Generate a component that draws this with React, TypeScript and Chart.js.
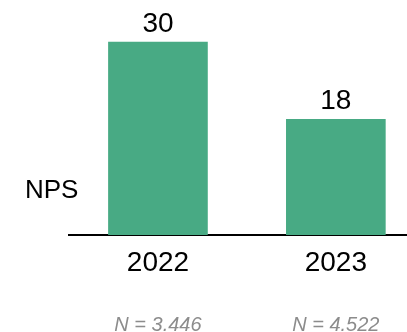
import React, { useEffect, useRef } from "react";
import { Chart, registerables } from "chart.js";

Chart.register(...registerables);

const categories = ["2022", "2023"];
const npsValues = [30, 18];
const sampleLabels = ["N = 3.446", "N = 4.522"];
const seriesLabel = "NPS";

const FONT = "'Liberation Sans', Arial, sans-serif";
const BAR_COLOR = "#48AA84";

const labelPlugin = {
  id: "labels",
  afterDatasetsDraw(chart: any) {
    const ctx = chart.ctx;
    const meta = chart.getDatasetMeta(0);
    ctx.save();
    ctx.fillStyle = "#000";
    ctx.font = `28px ${FONT}`;
    ctx.textAlign = "center";
    ctx.textBaseline = "alphabetic";
    meta.data.forEach((bar: any, i: number) => {
      ctx.fillText(String(npsValues[i]), bar.x, bar.y - 10);
    });
    ctx.font = `26px ${FONT}`;
    ctx.textAlign = "left";
    ctx.fillText(seriesLabel, 25, 198);
    ctx.restore();
  },
};

export default function App() {
  const ref = useRef<HTMLCanvasElement>(null);
  useEffect(() => {
    if (!ref.current) return;
    const chart = new Chart(ref.current, {
      type: "bar",
      data: {
        datasets: [
          {
            label: seriesLabel,
            data: categories.map((_, i) => ({ x: i, y: npsValues[i] })),
            backgroundColor: BAR_COLOR,
            barThickness: 99,
            borderWidth: 0,
          },
        ],
      },
      options: {
        animation: false,
        responsive: false,
        layout: { padding: { top: 10, left: 69, right: 0, bottom: 0 } },
        plugins: { legend: { display: false }, tooltip: { enabled: false } },
        scales: {
          x: {
            type: "linear",
            position: "bottom",
            offset: false,
            min: -0.5,
            max: 1.4,
            grid: { display: false, drawTicks: false, offset: false },
            border: { display: true, color: "#000", width: 2 },
            afterBuildTicks: (axis: any) => {
              axis.ticks = categories.map((_, i) => ({ value: i }));
            },
            afterFit: (axis: any) => {
              axis.height = 45;
              axis.paddingLeft = 0;
              axis.paddingRight = 0;
            },
            ticks: {
              padding: 11,
              maxRotation: 0,
              autoSkip: false,
              color: "#000",
              font: { family: FONT, size: 28 },
              callback: (v: any) => categories[Math.round(Number(v))] ?? "",
            },
          },
          x2: {
            type: "linear",
            position: "bottom",
            offset: false,
            min: -0.5,
            max: 1.4,
            grid: { display: false, drawTicks: false, offset: false },
            border: { display: false },
            afterBuildTicks: (axis: any) => {
              axis.ticks = sampleLabels.map((_, i) => ({ value: i }));
            },
            afterFit: (axis: any) => {
              axis.height = 52;
              axis.paddingLeft = 0;
              axis.paddingRight = 0;
            },
            ticks: {
              padding: 35,
              maxRotation: 0,
              autoSkip: false,
              color: "#8C8C8C",
              font: { family: FONT, size: 20, style: "italic", lineHeight: 1 },
              callback: (v: any) => sampleLabels[Math.round(Number(v))] ?? "",
            },
          },
          y: {
            display: false,
            min: 0,
            max: 35,
          },
        },
      },
      plugins: [labelPlugin],
    } as any);
    return () => chart.destroy();
  }, []);
  return (
    <div style={{ position: "fixed", left: 0, top: 0, width: 407, height: 332, background: "#fff" }}>
      <canvas ref={ref} width={407} height={332} />
    </div>
  );
}
